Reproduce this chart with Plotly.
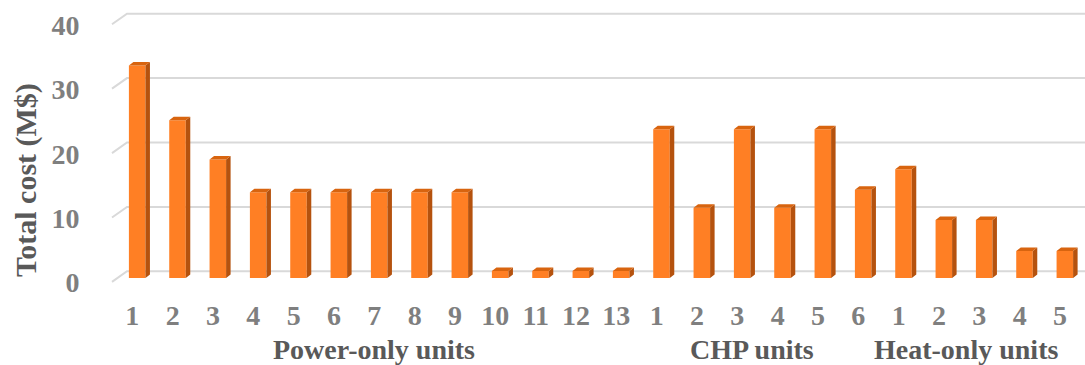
import plotly.graph_objects as go

# ---- data -----------------------------------------------------------------
power_labels = [str(i) for i in range(1, 14)]
chp_labels = [str(i) for i in range(1, 7)]
heat_labels = [str(i) for i in range(1, 6)]

power_cost = [33.0, 24.5, 18.4, 13.3, 13.3, 13.3, 13.3, 13.3, 13.3, 1.1, 1.1, 1.1, 1.1]
chp_cost = [23.1, 10.9, 23.1, 10.9, 23.1, 13.7]
heat_cost = [16.9, 9.0, 9.0, 4.2, 4.2]

group_names = ["Power-only units", "CHP units", "Heat-only units"]
y_ticks = [0, 10, 20, 30, 40]
y_title = "Total cost (M$)"

# ---- geometry -------------------------------------------------------------
FIG_W, FIG_H = 1085, 365
M_L, M_R, M_T, M_B = 117, 0, 10, 75
PLOT_W = FIG_W - M_L - M_R
PLOT_H = FIG_H - M_T - M_B
X_RANGE = [-0.5, 23.5]
Y_RANGE = [-1.863, 41.615]

px_per_x = PLOT_W / (X_RANGE[1] - X_RANGE[0])
px_per_y = PLOT_H / (Y_RANGE[1] - Y_RANGE[0])

BAR_W = 0.41
DEPTH_DX = 4.5 / px_per_x      # oblique depth offset of the 3-D bars
DEPTH_DY = 3.5 / px_per_y

FRONT = "#FF7F24"
SIDE = "#B5520E"
TOP = "#D8640F"
GRID = "#D9D9D9"
TICK_GRAY = "#7F7F7F"
TEXT_GRAY = "#595959"
FONT = "Liberation Serif"

tick_labels = power_labels + chp_labels + heat_labels
costs = power_cost + chp_cost + heat_cost
xs = list(range(len(costs)))

fig = go.Figure()

# front faces
fig.add_trace(go.Bar(x=xs, y=costs, width=BAR_W, marker=dict(color=FRONT, line=dict(width=0)),
                     showlegend=False, hoverinfo="x+y"))

# side and top faces of each bar
side_x, side_y, top_x, top_y = [], [], [], []
for x, v in zip(xs, costs):
    x0, x1 = x - BAR_W / 2, x + BAR_W / 2
    side_x += [x1, x1, x1 + DEPTH_DX, x1 + DEPTH_DX, x1, None]
    side_y += [0, v, v + DEPTH_DY, DEPTH_DY, 0, None]
    top_x += [x0, x1, x1 + DEPTH_DX, x0 + DEPTH_DX, x0, None]
    top_y += [v, v, v + DEPTH_DY, v + DEPTH_DY, v, None]

fig.add_trace(go.Scatter(x=side_x, y=side_y, mode="lines", fill="toself", fillcolor=SIDE,
                         line=dict(width=0, color=SIDE), showlegend=False, hoverinfo="skip"))
fig.add_trace(go.Scatter(x=top_x, y=top_y, mode="lines", fill="toself", fillcolor=TOP,
                         line=dict(width=0, color=TOP), showlegend=False, hoverinfo="skip"))


def paper_x(px):
    return (px - M_L) / PLOT_W


def paper_y_px(py):
    return (FIG_H - M_B - py) / PLOT_H


def paper_y(val):
    return (val - Y_RANGE[0]) / (Y_RANGE[1] - Y_RANGE[0])


# back-wall gridlines with the slanted floor edge on the left
back_off = 1.04
front_off = -0.6
shapes = []
for v in y_ticks:
    xa, ya = paper_x(112), paper_y(v + front_off)
    xb, yb = paper_x(127), paper_y(v + back_off)
    shapes.append(dict(type="path", xref="paper", yref="paper",
                       path=f"M {xa} {ya} L {xb} {yb} L 1 {yb}",
                       line=dict(color=GRID, width=2), layer="below"))

annotations = []
group_px = [374, 752, 966]
for name, gx in zip(group_names, group_px):
    annotations.append(dict(text=f"<b>{name}</b>", x=paper_x(gx), y=paper_y_px(349),
                            xref="paper", yref="paper", showarrow=False,
                            xanchor="center", yanchor="middle",
                            font=dict(family=FONT, size=28, color=TEXT_GRAY)))

# vertical axis title
annotations.append(dict(text=f"<b>{y_title}</b>", x=paper_x(26), y=paper_y_px(180),
                        xref="paper", yref="paper", showarrow=False, textangle=-90,
                        xanchor="center", yanchor="middle",
                        font=dict(family=FONT, size=30, color=TEXT_GRAY)))

fig.update_layout(
    width=FIG_W, height=FIG_H,
    margin=dict(l=M_L, r=M_R, t=M_T, b=M_B),
    paper_bgcolor="white", plot_bgcolor="white",
    shapes=shapes, annotations=annotations,
    font=dict(family=FONT),
    xaxis=dict(range=X_RANGE, tickmode="array",
               tickvals=[x - 0.12 for x in xs], ticktext=[f"<b>{t}</b>" for t in tick_labels],
               tickfont=dict(family=FONT, size=28, color=TICK_GRAY),
               showgrid=False, zeroline=False, showline=False,
               ticks="outside", ticklen=0, tickcolor="rgba(0,0,0,0)"),
    yaxis=dict(range=Y_RANGE, tickmode="array",
               tickvals=[v - 0.7 for v in y_ticks], ticktext=[f"<b>{v}</b>" for v in y_ticks],
               tickfont=dict(family=FONT, size=28, color=TICK_GRAY),
               showgrid=False, zeroline=False, showline=False,
               ticks="outside", ticklen=31, tickcolor="rgba(0,0,0,0)"),
)

fig.write_html("out.html")
